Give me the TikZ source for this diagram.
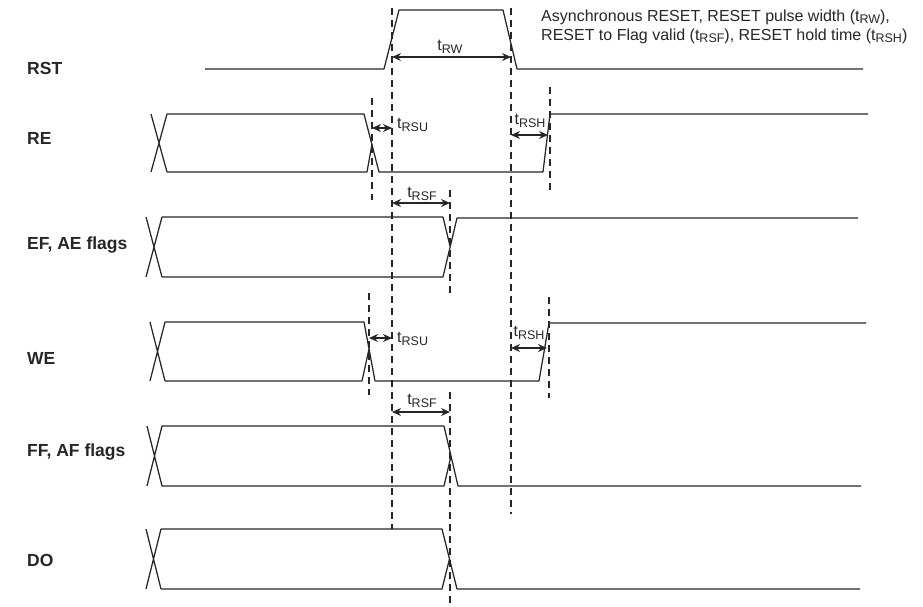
\documentclass[tikz,border=0pt]{standalone}
\usepackage{fontspec}
\setmainfont{Liberation Sans}
\usetikzlibrary{arrows.meta}
\newcommand\tsb[1]{t{\fontsize{12.5}{12.5}\selectfont\raisebox{-2.7pt}{#1}}}
\begin{document}
\begin{tikzpicture}[x=1pt,y=-1pt,
  sig/.style={line width=1.25pt, draw=black!85, line join=round},
  guide/.style={line width=1.1pt, draw=black!85, dash pattern=on 7pt off 5pt},
  dim/.style={line width=1.25pt, draw=black!85, {Stealth[length=9pt,width=8pt]}-{Stealth[length=9pt,width=8pt]}},
  lbl/.style={font=\fontsize{17.5}{17.5}\selectfont\bfseries, anchor=west, inner sep=0pt, text=black!85},
  tl/.style={font=\fontsize{16}{16}\selectfont, inner sep=0pt, text=black!85},
  note/.style={font=\fontsize{16}{16}\selectfont, inner sep=0pt, anchor=west, text=black!85}]
\useasboundingbox (0,0) rectangle (923,606);

% signal labels
\node[lbl] (lrst) at (27,68) {RST};
\node[lbl] (lre)  at (27,138) {RE};
\node[lbl] (lef)  at (27,245) {EF, AE flags};
\node[lbl] (lwe)  at (27,358) {WE};
\node[lbl] (lff)  at (27,452) {FF, AF flags};
\node[lbl] (ldo)  at (27,560) {DO};

% annotation
\node[note] (n1) at (541,17) {Asynchronous RESET, RESET pulse width (\tsb{RW}),};
\node[note] (n2) at (541,36) {RESET to Flag valid (\tsb{RSF}), RESET hold time (\tsb{RSH})};

% RST
\draw[sig] (205,69) -- (384,69) -- (399,10) -- (503,10) -- (517,69) -- (863,69);
% RE
\draw[sig] (151,114) -- (167,172) (151,172) -- (167,114);
\draw[sig] (167,114) -- (364,114) -- (379,172) -- (543,172) -- (550,114) -- (868,114);
\draw[sig] (167,172) -- (367,172) -- (372,144);
% EF
\draw[sig] (146,217) -- (162,277) (146,277) -- (162,217);
\draw[sig] (162,217) -- (443,217) -- (450,246);
\draw[sig] (162,277) -- (443,277) -- (457,218) -- (858,218);
% WE
\draw[sig] (150,322) -- (165,381) (150,381) -- (165,322);
\draw[sig] (165,322) -- (364,322) -- (375,381) -- (539,381) -- (549,323) -- (866,323);
\draw[sig] (165,381) -- (362,381) -- (369,349);
% FF
\draw[sig] (147,426) -- (162,486) (147,486) -- (162,426);
\draw[sig] (162,426) -- (444,426) -- (458,486) -- (861,486);
\draw[sig] (162,486) -- (444,486) -- (451,456);
% DO
\draw[sig] (146,529) -- (161,589) (146,589) -- (161,529);
\draw[sig] (161,529) -- (442,529) -- (457,589) -- (860,589);
\draw[sig] (161,589) -- (442,589) -- (449.5,559);

% guide lines
\coordinate (g1t) at (392,8);   \coordinate (g1b) at (392,529);
\coordinate (g2t) at (511,8);   \coordinate (g2b) at (511,514);
\coordinate (g3t) at (372,98);  \coordinate (g3b) at (372,200);
\coordinate (g4t) at (550,87);  \coordinate (g4b) at (550,190);
\coordinate (g5t) at (450,190); \coordinate (g5b) at (450,293);
\coordinate (g6t) at (369,293); \coordinate (g6b) at (369,395);
\coordinate (g7t) at (549,297); \coordinate (g7b) at (549,398);
\coordinate (g8t) at (450,392); \coordinate (g8b) at (450,606);
\foreach \g in {1,...,8} {\draw[guide] (g\g t) -- (g\g b);}

% dimension arrows
\coordinate (rwa) at (392,57);  \coordinate (rwb) at (511,57);
\coordinate (sua) at (372,128); \coordinate (sub) at (392,128);
\coordinate (sha) at (511,135); \coordinate (shb) at (548,135);
\coordinate (sfa) at (392,203); \coordinate (sfb) at (450,203);
\coordinate (wua) at (369,338); \coordinate (wub) at (392,338);
\coordinate (wha) at (511,348); \coordinate (whb) at (547,348);
\coordinate (ffa) at (392,412); \coordinate (ffb) at (450,412);
\draw[dim] (rwa) -- (rwb);
\draw[dim] (sua) -- (sub);
\draw[dim] (sha) -- (shb);
\draw[dim] (sfa) -- (sfb);
\draw[dim] (wua) -- (wub);
\draw[dim] (wha) -- (whb);
\draw[dim] (ffa) -- (ffb);

% timing labels
\node[tl] (trw) at (450,47) {\tsb{RW}};
\node[tl, anchor=west] (trsu1) at (397,125) {\tsb{RSU}};
\node[tl] (trsh1) at (530,121) {\tsb{RSH}};
\node[tl] (trsf1) at (422,194) {\tsb{RSF}};
\node[tl, anchor=west] (trsu2) at (397,339) {\tsb{RSU}};
\node[tl] (trsh2) at (529,333) {\tsb{RSH}};
\node[tl] (trsf2) at (422,401) {\tsb{RSF}};
\end{tikzpicture}
\end{document}
